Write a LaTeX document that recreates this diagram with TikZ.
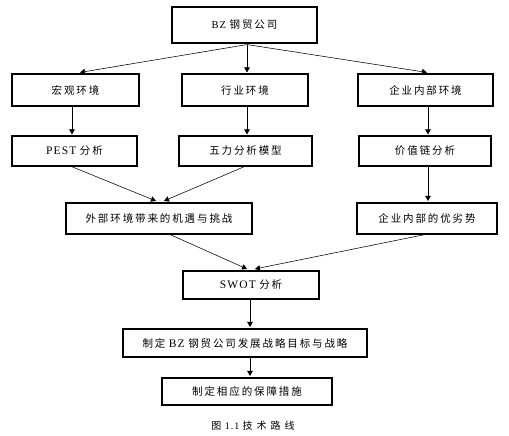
\documentclass[tikz,border=0pt]{standalone}
\usepackage{fontspec}
\newfontfamily\cjk[LetterSpace=18]{Noto Sans CJK SC}
\newfontfamily\capcjk[LetterSpace=40]{Noto Sans CJK SC}
\newfontfamily\lat[LetterSpace=10]{Liberation Serif}
\usetikzlibrary{arrows.meta,calc,shadows}
\tikzset{
  box/.style={draw, line width=1.1pt, fill=white, inner sep=0pt, minimum height=#1,
    copy shadow={shadow xshift=0.9pt, shadow yshift=-0.9pt},
    font=\fontsize{10.5}{12}\selectfont},
  arr/.style={line width=0.55pt, -{Triangle[length=5pt,width=5.5pt]}},
}
\begin{document}
\begin{tikzpicture}[x=1pt,y=-1pt]
\useasboundingbox (0,0) rectangle (509,436);
\node[box=36pt, minimum width=145pt] (bz) at (244.5,25) {{\lat BZ} {\cjk 钢贸公司}};
\node[box=32pt, minimum width=127pt] (macro) at (75.5,90) {\cjk 宏观环境};
\node[box=32pt, minimum width=126pt] (ind) at (245,90) {\cjk 行业环境};
\node[box=32pt, minimum width=135pt] (inner) at (425.5,90) {\cjk 企业内部环境};
\node[box=30pt, minimum width=125pt] (pest) at (74.5,151) {{\lat\fontsize{11.5}{12}\selectfont PEST} {\cjk 分析}};
\node[box=30pt, minimum width=133pt] (five) at (245.5,151) {\cjk 五力分析模型};
\node[box=30pt, minimum width=132pt] (value) at (425,151) {\cjk 价值链分析};
\node[box=31pt, minimum width=186pt] (ext) at (159,218.5) {\cjk 外部环境带来的机遇与挑战};
\node[box=31pt, minimum width=140pt] (sw) at (427,218.5) {\cjk 企业内部的优劣势};
\node[box=28pt, minimum width=136pt] (swot) at (251,285) {{\lat\fontsize{11.5}{12}\selectfont SWOT} {\cjk 分析}};
\node[box=28pt, minimum width=244pt] (goal) at (245,343) {{\cjk 制定} {\lat\fontsize{11.5}{12}\selectfont BZ} {\cjk 钢贸公司发展战略目标与战略}};
\node[box=27pt, minimum width=170pt] (meas) at (247,391.5) {\cjk 制定相应的保障措施};
\node[font=\fontsize{10}{11}\selectfont] (cap) at (253,426) {{\capcjk 图} {\lat 1.1} {\capcjk 技术路线}};

\coordinate (bzs) at ($(bz.south)+(2.5,1)$);
\draw[arr] (bzs) -- ($(macro.north)+(4.5,-1)$);
\draw[arr] (bzs) -- ($(ind.north)+(2,-1)$);
\draw[arr] (bzs) -- ($(inner.north)+(1.5,-1)$);
\draw[arr] ($(macro.south)+(-3.5,0)$) -- ($(pest.north)+(-2.5,-1)$);
\draw[arr] ($(ind.south)+(2,0)$) -- ($(five.north)+(1.5,-1)$);
\draw[arr] ($(inner.south)+(2.5,0)$) -- ($(value.north)+(3,-1)$);
\draw[arr] ($(pest.south)+(-3,0)$) -- ($(ext.north)+(-3,-1.5)$);
\draw[arr] ($(five.south)+(-1,0)$) -- ($(ext.north)+(5,-1.5)$);
\draw[arr] ($(value.south)+(3,0)$) -- ($(sw.north)+(1,-1.5)$);
\draw[arr] ($(ext.south)+(11,0)$) -- ($(swot.north)+(-4,-1.5)$);
\draw[arr] ($(sw.south)+(-2,0)$) -- ($(swot.north)+(4,-1.5)$);
\draw[arr] ($(swot.south)+(-1,0)$) -- ($(goal.north)+(5,-1.5)$);
\draw[arr] ($(goal.south)+(5,0)$) -- ($(meas.north)+(3,-1.5)$);
\end{tikzpicture}
\end{document}
